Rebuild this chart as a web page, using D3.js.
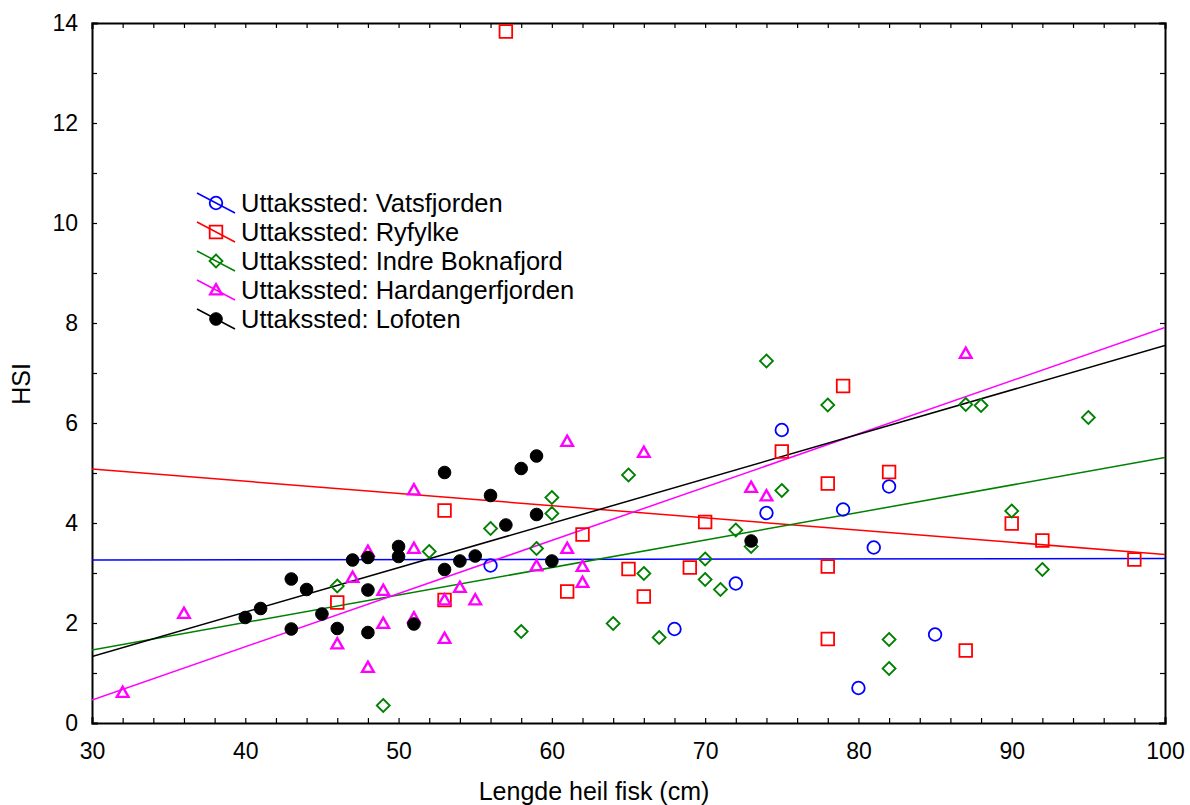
<!DOCTYPE html>
<html>
<head>
<meta charset="utf-8">
<script src="https://cdn.jsdelivr.net/npm/d3@7"></script>
<style>
  html, body { margin: 0; padding: 0; background: #fff; }
  svg { display: block; font-family: Arial, "Liberation Sans", Helvetica, sans-serif; }
</style>
</head>
<body>
<svg id="chart" width="1190" height="805"></svg>
<script>
// Sampling sites
const sites = [
  "Uttakssted: Vatsfjorden",
  "Uttakssted: Ryfylke",
  "Uttakssted: Indre Boknafjord",
  "Uttakssted: Hardangerfjorden",
  "Uttakssted: Lofoten"
];
const siteColors = ["#0000ff", "#ff0000", "#008000", "#ff00ff", "#000000"];
const siteSymbols = ["circle", "square", "diamond", "triangle", "dot"];

// Fish length (cm) and HSI per site
const vatsLength = [56, 68, 72, 74, 75, 79, 81, 82, 80, 85];
const vatsHSI    = [3.15, 1.88, 2.79, 4.20, 5.86, 4.27, 3.51, 4.73, 0.70, 1.77];

const ryfLength = [57, 53, 53, 46, 61, 62, 65, 66, 69, 70, 75, 78, 78, 78, 79, 82, 90, 92, 98, 87];
const ryfHSI    = [13.83, 4.25, 2.46, 2.41, 2.63, 3.77, 3.08, 2.53, 3.11, 4.02, 5.43, 4.79, 3.13, 1.68, 6.74, 5.02, 3.99, 3.65, 3.27, 1.45];

const boknLength = [49, 46, 52, 56, 59, 58, 60, 60, 65, 64, 66, 67, 70, 70, 71, 72, 73, 74, 75, 78, 82, 82, 87, 88, 95, 90, 92];
const boknHSI    = [0.35, 2.74, 3.43, 3.89, 3.49, 1.83, 4.51, 4.19, 4.96, 1.99, 2.99, 1.71, 3.28, 2.87, 2.67, 3.86, 3.53, 7.24, 4.65, 6.36, 1.67, 1.09, 6.37, 6.35, 6.11, 4.24, 3.07];

const hardLength = [32, 36, 46, 47, 48, 48, 49, 49, 51, 51, 51, 53, 53, 54, 55, 59, 61, 61, 62, 62, 66, 73, 74, 87];
const hardHSI    = [0.61, 2.19, 1.58, 2.91, 3.43, 1.11, 2.65, 1.99, 3.49, 4.66, 2.10, 2.46, 1.69, 2.71, 2.46, 3.14, 3.49, 5.63, 3.13, 2.81, 5.41, 4.71, 4.54, 7.39];

const lofLength = [40, 41, 43, 43, 44, 45, 46, 47, 48, 48, 48, 50, 50, 51, 53, 53, 54, 55, 56, 57, 58, 59, 59, 60, 73];
const lofHSI    = [2.11, 2.29, 2.88, 1.88, 2.67, 2.18, 1.89, 3.26, 3.31, 2.66, 1.81, 3.53, 3.33, 1.98, 5.01, 3.07, 3.24, 3.34, 4.55, 3.96, 5.09, 5.34, 4.17, 3.24, 3.64];

// Linear fits per site: HSI at length 30 and at length 100
const fitAt30  = [3.26, 5.08, 1.46, 0.46, 1.33];
const fitAt100 = [3.29, 3.37, 5.31, 7.91, 7.55];

const xTicksMajor = [30, 40, 50, 60, 70, 80, 90, 100];
const yTicksMajor = [0, 2, 4, 6, 8, 10, 12, 14];

const lengths = [vatsLength, ryfLength, boknLength, hardLength, lofLength];
const hsis    = [vatsHSI, ryfHSI, boknHSI, hardHSI, lofHSI];

const svg = d3.select("#chart");
const M = { left: 92, right: 1165, top: 23, bottom: 723 };

const x = d3.scaleLinear().domain([30, 100]).range([M.left, M.right]);
const y = d3.scaleLinear().domain([0, 14]).range([M.bottom, M.top]);

const TICK_FONT = 23;
const TITLE_FONT = 25;
const LEGEND_FONT = 25.5;
const tickLen = 5;

// Minor ticks
const xMinor = d3.range(30, 100.1, 2);
const yMinor = d3.range(0, 14.1, 1);

function styleAxis(g) {
  g.select(".domain").attr("stroke", "#000").attr("stroke-width", 2);
  g.selectAll(".tick line").attr("stroke", "#000").attr("stroke-width", 1.2);
  g.selectAll("text").attr("font-size", TICK_FONT).attr("fill", "#000")
    .attr("font-family", "Arial, 'Liberation Sans', sans-serif");
}

// Bottom axis: labels on major ticks, inward minor ticks
svg.append("g").attr("transform", `translate(0,${M.bottom})`)
  .call(d3.axisBottom(x).tickValues(xMinor).tickSize(-tickLen).tickPadding(20)
    .tickFormat(d => xTicksMajor.includes(d) ? d : ""))
  .call(styleAxis);
// Top frame
svg.append("g").attr("transform", `translate(0,${M.top})`)
  .call(d3.axisTop(x).tickValues(xMinor).tickSize(-tickLen).tickFormat(""))
  .call(styleAxis);
// Left axis
svg.append("g").attr("transform", `translate(${M.left},0)`)
  .call(d3.axisLeft(y).tickValues(yMinor).tickSize(-tickLen).tickPadding(14)
    .tickFormat(d => yTicksMajor.includes(d) ? d : ""))
  .call(styleAxis);
// Right frame
svg.append("g").attr("transform", `translate(${M.right},0)`)
  .call(d3.axisRight(y).tickValues(yMinor).tickSize(-tickLen).tickFormat(""))
  .call(styleAxis);

svg.selectAll(".domain").attr("stroke-linecap", "square");

// Axis titles
svg.append("text")
  .attr("x", 594).attr("y", 800)
  .attr("text-anchor", "middle").attr("font-size", TITLE_FONT).attr("fill", "#000")
  .text("Lengde heil fisk (cm)");
svg.append("text")
  .attr("transform", `translate(30,384) rotate(-90)`)
  .attr("text-anchor", "middle").attr("font-size", TITLE_FONT).attr("fill", "#000")
  .text("HSI");

// Clip region
svg.append("clipPath").attr("id", "plotClip")
  .append("rect").attr("x", M.left).attr("y", M.top)
  .attr("width", M.right - M.left).attr("height", M.bottom - M.top);

const plot = svg.append("g").attr("clip-path", "url(#plotClip)");

// Fit lines
sites.forEach((s, i) => {
  plot.append("line")
    .attr("x1", x(30)).attr("y1", y(fitAt30[i]))
    .attr("x2", x(100)).attr("y2", y(fitAt100[i]))
    .attr("stroke", siteColors[i]).attr("stroke-width", 1.5);
});

// Marker shapes
function symbolPath(kind) {
  switch (kind) {
    case "circle":
    case "dot": {
      const r = 6.3;
      return `M${r},0A${r},${r} 0 1,1 ${-r},0A${r},${r} 0 1,1 ${r},0Z`;
    }
    case "square": { const h = 6.3; return `M${-h},${-h}H${h}V${h}H${-h}Z`; }
    case "diamond": { const h = 6.5; return `M0,${-h}L${h},0L0,${h}L${-h},0Z`; }
    case "triangle": { const w = 5.8, t = -5.8, b = 4.4; return `M0,${t}L${w},${b}L${-w},${b}Z`; }
  }
}
const strokeFor = kind => kind === "dot" ? 1 : kind === "triangle" ? 2.4 : 1.8;

sites.forEach((s, i) => {
  const pts = lengths[i].map((L, k) => ({ L, h: hsis[i][k] }));
  const filled = siteSymbols[i] === "dot";
  plot.append("g").selectAll("path").data(pts).join("path")
    .attr("transform", d => `translate(${x(d.L)},${y(d.h)})`)
    .attr("d", symbolPath(siteSymbols[i]))
    .attr("fill", filled ? siteColors[i] : "none")
    .attr("stroke", siteColors[i])
    .attr("stroke-linejoin", "miter")
    .attr("stroke-width", strokeFor(siteSymbols[i]));
});

// Legend
const legend = svg.append("g");
const legendRowY = d3.range(sites.length).map(i => 203 + i * 29);
sites.forEach((s, i) => {
  const cy = legendRowY[i];
  legend.append("line")
    .attr("x1", 197).attr("y1", cy - 10).attr("x2", 235).attr("y2", cy + 10)
    .attr("stroke", siteColors[i]).attr("stroke-width", 1.5);
  const filled = siteSymbols[i] === "dot";
  legend.append("path")
    .attr("transform", `translate(216,${cy})`)
    .attr("d", symbolPath(siteSymbols[i]))
    .attr("fill", filled ? siteColors[i] : "none")
    .attr("stroke", siteColors[i])
    .attr("stroke-width", strokeFor(siteSymbols[i]));
  legend.append("text")
    .attr("x", 241).attr("y", cy).attr("dy", "0.36em")
    .attr("font-size", LEGEND_FONT).attr("fill", "#000")
    .text(s);
});
</script>
</body>
</html>
